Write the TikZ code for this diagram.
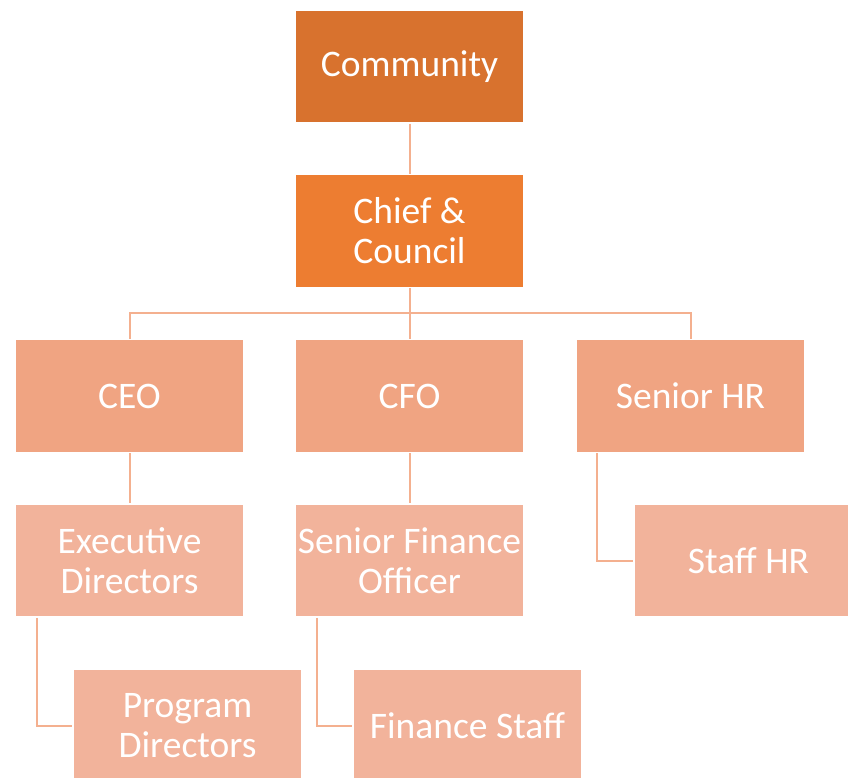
\documentclass[tikz,border=0pt]{standalone}
\usepackage{fontspec}
\setmainfont{Carlito}
\definecolor{topbox}{HTML}{D8722E}
\definecolor{chiefbox}{HTML}{ED7D31}
\definecolor{midbox}{HTML}{F0A482}
\definecolor{lowbox}{HTML}{F2B39B}
\definecolor{link}{HTML}{F4B08F}
\begin{document}
\begin{tikzpicture}[x=1pt,y=-1pt,
    box/.style={draw=white,line width=1.5pt,minimum width=229pt,minimum height=113pt,
        inner sep=0pt,align=center,text=white,font=\fontsize{37.5}{40}\selectfont},
    conn/.style={draw=link,line width=2pt}]
    \clip (0,0) rectangle (848,778);
    \fill[white] (0,0) rectangle (848,778);
    % boxes
    \node[box,fill=topbox] (community) at (409.5,66.5) {Community};
    \node[box,fill=chiefbox] (chief) at (409.5,231) {Chief \&\\Council};
    \node[box,fill=midbox] (ceo) at (129.5,396) {CEO};
    \node[box,fill=midbox] (cfo) at (409.5,396) {CFO};
    \node[box,fill=midbox] (hr) at (690.5,396) {Senior HR};
    \node[box,fill=lowbox] (execdir) at (129.5,560.5) {Executive\\Directors};
    \node[box,fill=lowbox] (sfo) at (409.5,560.5) {Senior Finance\\Officer};
    \node[box,fill=lowbox] (staffhr) at (748.5,560.5) {Staff HR};
    \node[box,fill=lowbox] (progdir) at (187.5,725.5) {Program\\Directors};
    \node[box,fill=lowbox] (finstaff) at (467.5,725.5) {Finance Staff};
    % connectors
    \coordinate (bar) at (409.5,313);
    \path[conn] (community) -- (chief);
    \path[conn] (chief) -- (bar) -- (cfo);
    \path[conn] (ceo) |- (bar) -| (hr);
    \path[conn] (ceo) -- (execdir);
    \path[conn] (cfo) -- (sfo);
    \path[conn] ([xshift=-93pt]execdir.south) |- (progdir);
    \path[conn] ([xshift=-93pt]sfo.south) |- (finstaff);
    \path[conn] ([xshift=-93.5pt]hr.south) |- (staffhr);
\end{tikzpicture}
\end{document}
